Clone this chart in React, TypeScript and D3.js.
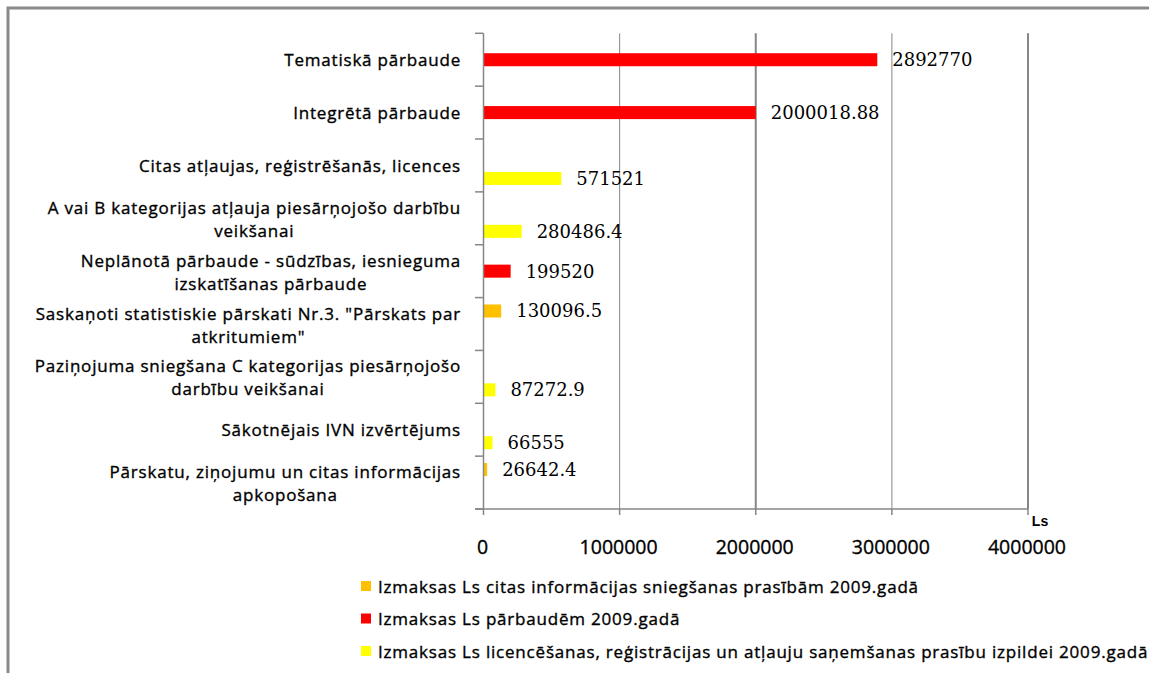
import React from "react";
import * as d3 from "d3";

const categories: string[] = [
  "Tematiskā pārbaude",
  "Integrētā pārbaude",
  "Citas atļaujas, reģistrēšanās, licences",
  "A vai B kategorijas atļauja piesārņojošo darbību\nveikšanai",
  "Neplānotā pārbaude - sūdzības, iesnieguma\nizskatīšanas pārbaude",
  "Saskaņoti statistiskie pārskati Nr.3. \"Pārskats par\natkritumiem\"",
  "Paziņojuma sniegšana C kategorijas piesārņojošo\ndarbību veikšanai",
  "Sākotnējais IVN izvērtējums",
  "Pārskatu, ziņojumu un citas informācijas\napkopošana",
];

const seriesNames: string[] = [
  "Izmaksas Ls citas informācijas sniegšanas prasībām 2009.gadā",
  "Izmaksas Ls pārbaudēm 2009.gadā",
  "Izmaksas Ls licencēšanas, reģistrācijas un atļauju saņemšanas prasību izpildei 2009.gadā",
];

const infoValues: (number | null)[] = [null, null, null, null, null, 130096.5, null, null, 26642.4];
const inspectionValues: (number | null)[] = [2892770, 2000018.88, null, null, 199520, null, null, null, null];
const licenceValues: (number | null)[] = [null, null, 571521, 280486.4, null, null, 87272.9, 66555, null];

const seriesColors: string[] = ["#FFC000", "#FF0000", "#FFFF00"];
const xTicks: number[] = [0, 1000000, 2000000, 3000000, 4000000];
const axisTitle = "Ls";

const W = 1149;
const H = 673;
const FONT = "'Open Sans', 'DejaVu Sans', sans-serif";
const SERIF = "'DejaVu Serif', serif";

export default function App() {
  const seriesValues = [infoValues, inspectionValues, licenceValues];
  const x = d3.scaleLinear().domain([0, 4000000]).range([483.5, 1028]);
  const y = d3.scaleBand<string>().domain(categories).range([33.3, 509]).paddingInner(0).paddingOuter(0);
  const ySub = d3
    .scaleBand<number>()
    .domain([0, 1, 2])
    .range([0, y.bandwidth()])
    .paddingInner(0)
    .paddingOuter(0.53);

  const bounds = [...categories.map((c) => y(c) as number), 509];
  const gray = "#868686";
  const lineH = 23;
  const textStyle = {
    fontFamily: FONT,
    fontSize: 17,
    letterSpacing: 0.8,
    fill: "#000",
    stroke: "#000",
    strokeWidth: 0.35,
  } as const;

  return (
    <svg
      width={W}
      height={H}
      style={{ position: "absolute", left: 0, top: 0, display: "block", background: "#fff" }}
    >
      <rect x={0} y={0} width={W} height={H} fill="#fff" />
      {/* outer border */}
      <path d={`M8,${H} L8,8 L${W},8`} fill="none" stroke="#8a8a8a" strokeWidth={3} />

      {/* gridlines */}
      {xTicks.slice(1).map((t) => (
        <line
          key={"g" + t}
          x1={x(t)}
          x2={x(t)}
          y1={33.3}
          y2={509}
          stroke={gray}
          strokeWidth={(t / 1000000) % 2 === 0 ? 2 : 1}
        />
      ))}

      {/* bars */}
      {seriesValues.map((vals, si) =>
        vals.map((v, ci) =>
          v == null ? null : (
            <rect
              key={`b${si}-${ci}`}
              x={x(0)}
              y={(y(categories[ci]) as number) + (ySub(si) as number)}
              width={x(v) - x(0)}
              height={ySub.bandwidth()}
              fill={seriesColors[si]}
            />
          )
        )
      )}

      {/* axes */}
      <line x1={x(0)} x2={x(0)} y1={33.3} y2={509} stroke={gray} strokeWidth={1.5} />
      <line x1={475} x2={x(4000000)} y1={509} y2={509} stroke={gray} strokeWidth={1.5} />
      {bounds.map((b, i) => (
        <line key={"ct" + i} x1={475} x2={x(0)} y1={b} y2={b} stroke={gray} strokeWidth={1.5} />
      ))}
      {xTicks.map((t) => (
        <line key={"xt" + t} x1={x(t)} x2={x(t)} y1={509} y2={515} stroke={gray} strokeWidth={1.5} />
      ))}

      {/* x tick labels */}
      {xTicks.map((t) => (
        <text
          key={"xl" + t}
          x={x(t) - 1}
          y={546}
          textAnchor="middle"
          dominantBaseline="central"
          fontFamily={FONT}
          fontSize={19.5}
          fill="#000"
          stroke="#000"
          strokeWidth={0.35}
        >
          {d3.format("d")(t)}
        </text>
      ))}
      <text x={1040} y={521} textAnchor="middle" dominantBaseline="central" fontFamily="'Liberation Sans', Arial, sans-serif" fontWeight="bold" fontSize={14} fill="#000">
        {axisTitle}
      </text>

      {/* category labels */}
      {categories.map((c) => {
        const lines = c.split("\n");
        const cy = (y(c) as number) + y.bandwidth() / 2;
        const y0 = cy - ((lines.length - 1) * lineH) / 2;
        return (
          <g key={"cl" + c}>
            {lines.length === 1 ? (
              <text x={461} y={cy} textAnchor="end" dominantBaseline="central" {...textStyle}>
                {lines[0]}
              </text>
            ) : (
              <text
                x={461}
                y={y0}
                textAnchor="end"
                dominantBaseline="central"
                {...textStyle}
                ref={(el) => {
                  if (!el) return;
                  const tspans = Array.from(el.querySelectorAll("tspan")) as SVGTSpanElement[];
                  const ws = tspans.map((t) => t.getComputedTextLength());
                  const maxW = Math.max(...ws);
                  tspans.forEach((t) => {
                    t.setAttribute("x", String(461 - maxW / 2));
                    t.setAttribute("text-anchor", "middle");
                  });
                }}
              >
                {lines.map((l, i) => (
                  <tspan key={i} x={461} dy={i === 0 ? 0 : lineH}>
                    {l}
                  </tspan>
                ))}
              </text>
            )}
          </g>
        );
      })}

      {/* data labels */}
      {seriesValues.map((vals, si) =>
        vals.map((v, ci) =>
          v == null ? null : (
            <text
              key={`l${si}-${ci}`}
              x={x(v) + 15}
              y={(y(categories[ci]) as number) + (ySub(si) as number) + ySub.bandwidth() / 2}
              dominantBaseline="central"
              fontFamily={SERIF}
              fontSize={18}
              fill="#000"
            >
              {String(v)}
            </text>
          )
        )
      )}

      {/* legend */}
      {seriesNames.map((n, i) => {
        const ly = [586, 618.5, 651][i];
        return (
          <g key={"lg" + i}>
            <rect x={361} y={ly - 5} width={10} height={10} fill={seriesColors[i]} />
            <text x={378} y={ly} dominantBaseline="central" {...textStyle}>
              {n}
            </text>
          </g>
        );
      })}
    </svg>
  );
}
